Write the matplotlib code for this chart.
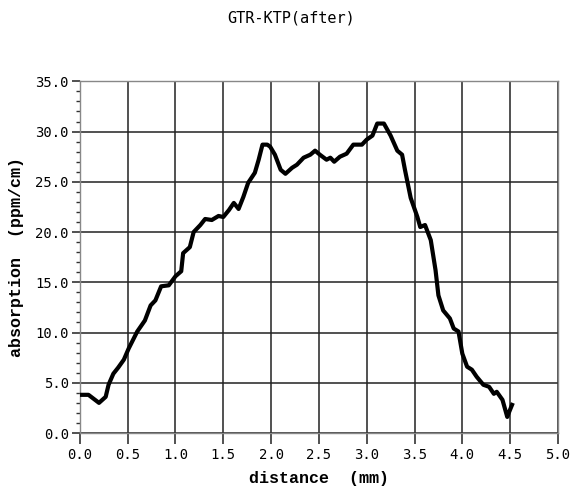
"""Absorption profile across GTR-KTP sample (after)
"""
import numpy as np
import matplotlib
matplotlib.use("Agg")
import matplotlib.pyplot as plt
from matplotlib.ticker import MultipleLocator

# distance (mm) and absorption (ppm/cm)
distance_mm = [
    0.00, 0.09, 0.20, 0.27, 0.30, 0.35, 0.40, 0.46, 0.51, 0.60, 0.68, 0.74,
    0.79, 0.85, 0.93, 1.00, 1.06, 1.08, 1.15, 1.19, 1.26, 1.31, 1.38, 1.45,
    1.50, 1.56, 1.61, 1.66, 1.71, 1.76, 1.83, 1.87, 1.91, 1.96, 1.99, 2.04,
    2.10, 2.15, 2.22, 2.27, 2.34, 2.41, 2.46, 2.51, 2.58, 2.62, 2.66, 2.72,
    2.79, 2.86, 2.95, 3.00, 3.06, 3.11, 3.18, 3.25, 3.32, 3.37, 3.40, 3.46,
    3.53, 3.56, 3.61, 3.67, 3.72, 3.75, 3.80, 3.87, 3.91, 3.96, 4.00, 4.05,
    4.10, 4.15, 4.22, 4.28, 4.33, 4.36, 4.42, 4.47, 4.49, 4.52,
]
absorption = [
    3.8, 3.8, 3.0, 3.6, 4.8, 5.9, 6.5, 7.3, 8.4, 10.1, 11.2, 12.7,
    13.2, 14.6, 14.7, 15.6, 16.1, 17.9, 18.5, 20.0, 20.7, 21.3, 21.2, 21.6,
    21.5, 22.2, 22.9, 22.3, 23.5, 24.9, 25.9, 27.2, 28.7, 28.7, 28.5, 27.7,
    26.2, 25.8, 26.4, 26.7, 27.4, 27.7, 28.1, 27.7, 27.2, 27.4, 27.0, 27.5,
    27.8, 28.7, 28.7, 29.2, 29.6, 30.8, 30.8, 29.6, 28.1, 27.7, 26.2, 23.4,
    21.5, 20.5, 20.7, 19.2, 16.2, 13.7, 12.2, 11.4, 10.4, 10.1, 7.9, 6.6,
    6.3, 5.6, 4.8, 4.6, 3.9, 4.1, 3.3, 1.6, 2.1, 2.8,
]

x_ticks = np.arange(0, 5.01, 0.5)
y_ticks = np.arange(0, 35.01, 5.0)

mono = "DejaVu Sans Mono"
label_font = "Liberation Mono"

fig = plt.figure(figsize=(5.83, 4.96), dpi=100)
ax = fig.add_axes([0.137, 0.127, 0.820, 0.709])

ax.plot(distance_mm, absorption, color="black", linewidth=3.0,
        solid_joinstyle="round", zorder=3)

# -------
# Axis
# -------
ax.set_xlim(0, 5.0)
ax.set_ylim(0, 35.0)
ax.set_xticks(x_ticks)
ax.set_xticklabels(["%.1f" % v for v in x_ticks], family=mono, fontsize=10)
ax.set_yticks(y_ticks)
ax.set_yticklabels(["%.1f" % v for v in y_ticks], family=mono, fontsize=10)
ax.yaxis.set_minor_locator(MultipleLocator(1.0))

ax.grid(True, which="major", color="#222222", linewidth=1.1)
ax.set_axisbelow(True)
for spine in ax.spines.values():
    spine.set_color("#888888")
    spine.set_linewidth(1.0)

ax.tick_params(axis="x", which="major", direction="out", length=8,
               width=1.2, color="#333333", pad=3)
ax.tick_params(axis="y", which="major", direction="out", length=6,
               width=1.2, color="#333333", pad=2)
ax.tick_params(axis="y", which="minor", direction="out", length=3,
               width=1.0, color="#333333")

# -------
# Labels
# -------
ax.set_xlabel("distance  (mm)", family=label_font, fontweight="bold",
              fontsize=12, labelpad=6)
ax.set_ylabel("absorption  (ppm/cm)", family=label_font, fontweight="bold",
              fontsize=12, labelpad=8)
fig.text(0.5, 0.963, "GTR-KTP(after)", ha="center", va="center",
         family=mono, fontsize=11, fontstretch="condensed")

plt.savefig("out.png", dpi=100)
plt.close()
